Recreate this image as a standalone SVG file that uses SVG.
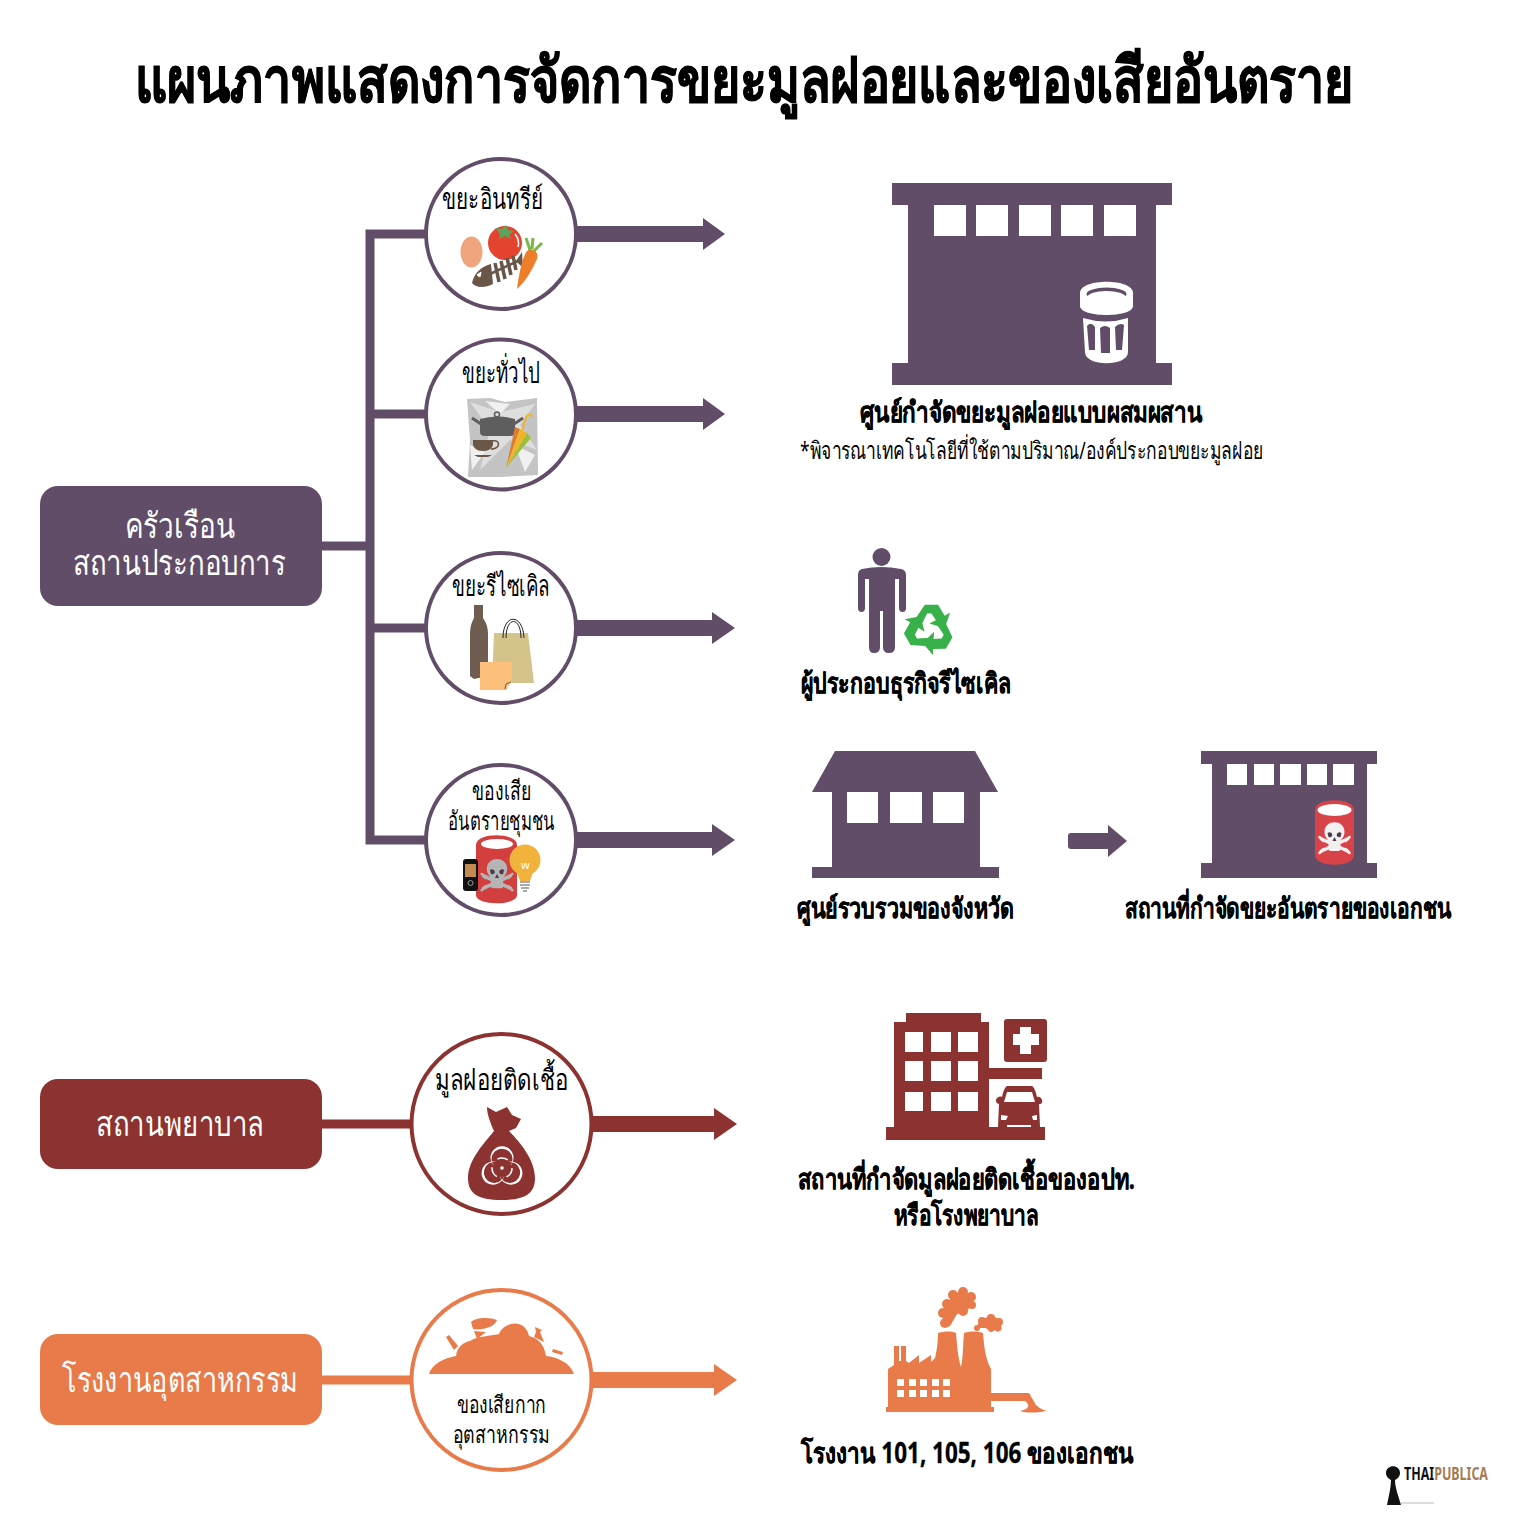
<svg xmlns="http://www.w3.org/2000/svg" width="1520" height="1520" viewBox="0 0 1520 1520">
<style>
text{font-family:"Noto Sans","Open Sans","DejaVu Sans",sans-serif}
.t{fill:#000;font-size:29px}
.s{fill:#000;font-size:26px}
.n{fill:#000;font-size:24px}
.b{fill:#000;font-size:28px;font-weight:700;stroke:#000;stroke-width:.3}
.w{fill:#fff;font-size:35px}
.p{fill:#624d68}.r{fill:#8c3230}.o{fill:#e97a4a}
.ps{stroke:#624d68}.rs{stroke:#8c3230}.os{stroke:#e97a4a}
.c{fill:#fff;stroke-width:4}
.wf{fill:#fff}
</style>
<defs>
<g id="skull">
<path d="M-13-1 13 11M13-1-13 11" stroke-width="3.500" stroke-linecap="round" fill="none"/>
<path d="M-15-3-11 1M15-3 11 1M-15 13-11 9M15 13 11 9" stroke-width="2.500" stroke-linecap="round" fill="none"/>
<path stroke="none" d="M-10-8C-10-21 10-21 10-8 10-3 7-1 6 1V9Q6 11 3 11H-3Q-6 11-6 9V1C-7-1-10-3-10-8Z"/>
<path stroke="none" fill="#4d3a4d" d="M-7-7Q-3-9-2-5-3-2-6-3ZM7-7Q3-9 2-5 3-2 6-3ZM0-3 2 1H-2Z"/>
</g>
<path id="arm" d="M-15-6-4-22H8L14-12 19-15 14-1 0-5 6-8 2-14H-2L-8-2Z"/>
<path id="cres" d="M-8-2A11.500 11.500 0 1 1 8-2A10.500 10.500 0 1 0-8-2Z"/>
</defs>
<rect width="1520" height="1520" fill="#fff"/>
<text id="title" x="135" y="102" font-size="62" font-weight="700" fill="#000" stroke="#000" stroke-width=".9" textLength="1218" lengthAdjust="spacingAndGlyphs">แผนภาพแสดงการจัดการขยะมูลฝอยและของเสียอันตราย</text>

<g id="connectors" fill="none">
<path class="ps" stroke-width="9" d="M322 546H370M370 229.500V844.500M366 234H427M366 414H427M366 628H427M366 840H427"/>
<path class="rs" stroke-width="9" d="M322 1124H412"/>
<path class="os" stroke-width="9" d="M322 1380H412"/>
<path class="p" d="M577 226H703V218L725 234 703 250V242H577Z"/>
<path class="p" d="M577 406H703V398L725 414 703 430V422H577Z"/>
<path class="p" d="M577 620H712V612L735 628 712 644V636H577Z"/>
<path class="p" d="M577 832H712V824L735 840 712 856V848H577Z"/>
<path class="r" d="M592 1116H714V1108L737 1124 714 1140V1132H592Z"/>
<path class="o" d="M592 1372H714V1364L737 1380 714 1396V1388H592Z"/>
<path class="p" d="M1071 833H1108V825L1127 841 1108 857V849H1071Q1068 849 1068 846V836Q1068 833 1071 833Z"/>
</g>

<g id="n-household"><rect class="p" x="40" y="486" width="282" height="120" rx="18"/>
<text class="w" x="125" y="538" textLength="110" lengthAdjust="spacingAndGlyphs">ครัวเรือน</text>
<text class="w" x="73" y="575" textLength="213" lengthAdjust="spacingAndGlyphs">สถานประกอบการ</text></g>
<g id="n-hospital"><rect class="r" x="40" y="1079" width="282" height="90" rx="18"/>
<text class="w" x="96" y="1136" textLength="168" lengthAdjust="spacingAndGlyphs">สถานพยาบาล</text></g>
<g id="n-factory"><rect class="o" x="40" y="1334" width="282" height="91" rx="18"/>
<text class="w" x="62" y="1392" textLength="236" lengthAdjust="spacingAndGlyphs">โรงงานอุตสาหกรรม</text></g>

<g id="n-organic"><circle class="c ps" cx="501" cy="234" r="75"/>
<text class="t" x="442" y="209" textLength="101" lengthAdjust="spacingAndGlyphs">ขยะอินทรีย์</text>
<ellipse cx="471.500" cy="252" rx="11" ry="15.500" fill="#f0a57e"/>
<circle cx="505" cy="243" r="17" fill="#e4432f"/>
<path d="M515 234Q520 240 518 247" stroke="#fff" stroke-width="1.500" fill="none"/>
<path d="M495 228 502 229 506 225 508 230 514 231 509 235 511 239 505 236 499 239 500 234Z" fill="#5fa35a"/>
<path d="M472 283C474 273 482 266 491 264L493 284C485 288 476 288 472 283Z" fill="#6a5648"/>
<path d="M488 275 520 260" stroke="#6a5648" stroke-width="2.500"/>
<path d="M495 263 499 282M501 261 505 279M507 258 511 275M513 256 516 270" stroke="#6a5648" stroke-width="3.500"/>
<path d="M516 261 522 252 523 268Z" fill="#6a5648"/>
<path d="M477 275 481 272 480 277Z" fill="#fff" stroke="#fff"/>
<path d="M517 289C519 274 522 258 527 251 533 247 539 252 537 259 532 270 526 281 517 289Z" fill="#ee7d2a"/>
<path d="M530 250 526 238M532 249 533 238M534 251 542 243" stroke="#7ab648" stroke-width="3" fill="none"/>
</g>

<g id="n-general"><circle class="c ps" cx="501" cy="414.500" r="75"/>
<text class="t" x="462" y="383" textLength="78" lengthAdjust="spacingAndGlyphs">ขยะทั่วไป</text>
<path d="M467 399 490 398 505 402 537 398 538 475 500 477 468 477 470 440Z" fill="#c4c4c4"/>
<path d="M470 402 500 412 535 404 520 425 537 450 510 440 480 470 490 430Z" fill="#dedede"/>
<path d="M485 401 510 404 500 414ZM470 445 485 452 472 470ZM515 445 535 455 525 472Z" fill="#f0f0f0"/>
<path d="M480 419Q497 414 515 419V432Q515 436 510 436H485Q480 436 480 432Z" fill="#5e5e5e"/>
<path d="M472 418 481 424M523 418 514 424" stroke="#5e5e5e" stroke-width="3"/>
<circle cx="497" cy="414.500" r="2.500" fill="none" stroke="#5e5e5e" stroke-width="1.500"/>
<path d="M473 440H493V445Q491 451 483 451 475 451 473 445Z" fill="#6b5748"/>
<path d="M492 441Q500 440 498 446 496 449 491 449" fill="none" stroke="#6b5748" stroke-width="1.500"/>
<path d="M474 455H492L488 457H478Z" fill="#6b5748"/>
<path d="M506 468 515 427 520 429Z" fill="#e07a2f"/>
<path d="M506 468 520 429 527 433Z" fill="#f0b429"/>
<path d="M506 468 527 433 531 438Z" fill="#9bc13c"/>
<path d="M522 431 526 417Q529 412 532 417" fill="none" stroke="#f0b429" stroke-width="2"/>
</g>

<g id="n-recycle"><circle class="c ps" cx="501" cy="628" r="75"/>
<text class="t" x="452" y="596" textLength="98" lengthAdjust="spacingAndGlyphs">ขยะรีไซเคิล</text>
<path d="M474 605H483V618Q488 625 488 634V676L474 679 470 676V634Q470 625 474 618Z" fill="#6e5d50"/>
<path d="M494 633H528L534 683H492Z" fill="#d4c48c"/>
<path d="M503 638C503 613 523 613 524 638M506 638C506 616 521 616 521 638" fill="none" stroke="#222" stroke-width="1"/>
<path d="M480 662H512V680L506 690H480Z" fill="#fdc07c"/>
<path d="M505 689 506 684 511 682" fill="none" stroke="#7a5a30" stroke-width="1"/>
</g>

<g id="n-hazard"><circle class="c ps" cx="501" cy="840" r="75"/>
<text class="s" x="472" y="800" textLength="59" lengthAdjust="spacingAndGlyphs">ของเสีย</text>
<text class="s" x="448" y="830" textLength="107" lengthAdjust="spacingAndGlyphs">อันตรายชุมชน</text>
<path d="M476 845C476 832 517 832 517 845V895C517 906 476 906 476 895Z" fill="#d33f3f"/>
<ellipse cx="497" cy="844" rx="16" ry="5" fill="#fff"/>
<use href="#skull" transform="translate(497 877) scale(1.020)" fill="#b5b5b5" stroke="#b5b5b5"/>
<rect x="463" y="859" width="15" height="32" rx="3" fill="#111"/>
<rect x="465" y="864" width="11" height="13" fill="#c08a50"/>
<circle cx="470.500" cy="883" r="2.500" fill="none" stroke="#999"/>
<circle cx="525" cy="860" r="15.500" fill="#f2b33d"/>
<path d="M517 872H533L530 881H520Z" fill="#f2b33d"/>
<path d="M520 882H530M520 885H530M521 888H529M523 891H527" stroke="#aaa" stroke-width="2"/>
<text x="521" y="869" font-size="11" fill="#fff">w</text>
</g>

<g id="n-infectious"><circle class="c rs" cx="501.500" cy="1124" r="90"/>
<text class="t" x="435" y="1090" textLength="133" lengthAdjust="spacingAndGlyphs">มูลฝอยติดเชื้อ</text>
<path class="r" d="M487 1107 496 1112 507 1107 512 1115 521 1119 516 1128 509 1131C520 1142 535 1160 535 1178 535 1193 526 1200 502 1200 477 1200 468 1193 468 1178 468 1160 485 1142 494 1131 490 1122 487 1114 487 1107Z"/>
<g class="wf"><use href="#cres" transform="translate(502 1168)"/><use href="#cres" transform="translate(502 1168) rotate(120)"/><use href="#cres" transform="translate(502 1168) rotate(240)"/></g>
<circle cx="502" cy="1168" r="10" fill="none" stroke="#fff" stroke-width="1.500" stroke-dasharray="11 10"/>
<circle cx="502" cy="1168" r="1.800" fill="#fff"/>
</g>

<g id="n-industrial"><circle class="c os" cx="501.500" cy="1380" r="90"/>
<path class="o" d="M429 1374C432 1364 444 1358 456 1356 457 1347 464 1342 470 1341 478 1336 490 1336 499 1334 502 1326 512 1322 519 1324 525 1326 528 1331 529 1336 538 1338 544 1344 546 1356 556 1357 570 1362 574 1374Z"/>
<path class="o" d="M446 1337 449 1335 458 1346 454 1350Z"/>
<path class="o" d="M471 1322C476 1317 490 1317 497 1320 496 1326 482 1331 473 1329Z"/>
<path class="o" d="M474 1331 486 1332 477 1339Z"/>
<path class="o" d="M535 1327 542 1330 540 1332 544 1342 534 1337 536 1332Z"/>
<path class="o" d="M553 1349 563 1352 562 1355 552 1352Z"/>
<text class="n" x="457" y="1413" textLength="89" lengthAdjust="spacingAndGlyphs">ของเสียกาก</text>
<text class="n" x="453" y="1443" textLength="97" lengthAdjust="spacingAndGlyphs">อุตสาหกรรม</text>
</g>

<g id="n-mixed">
<path class="p" d="M892 183H1172V205H1156V363H1172V385H892V363H908V205H892Z"/>
<g class="wf"><rect x="934" y="205" width="32" height="31"/><rect x="976" y="205" width="32" height="31"/><rect x="1019" y="205" width="32" height="31"/><rect x="1061" y="205" width="32" height="31"/><rect x="1104" y="205" width="32" height="31"/></g>
<path class="wf" d="M1080 293C1080 278 1133 278 1133 293V306C1133 318 1080 318 1080 306Z"/>
<ellipse class="p" cx="1106.500" cy="294" rx="20" ry="6.500"/>
<ellipse class="wf" cx="1106.500" cy="297" rx="19" ry="6"/>
<path class="wf" d="M1083 318Q1106 325 1128 318V352C1128 367 1085 367 1085 352Z"/>
<path class="p" d="M1087 326Q1091 321 1095 327V350H1089ZM1100 328Q1105 324 1110 328V353H1101ZM1115 327Q1120 322 1124 325L1122 350H1116Z"/>
<text class="b" x="860" y="422" textLength="342" lengthAdjust="spacingAndGlyphs">ศูนย์กำจัดขยะมูลฝอยแบบผสมผสาน</text>
<text class="n" x="800" y="459" textLength="463" lengthAdjust="spacingAndGlyphs">*พิจารณาเทคโนโลยีที่ใช้ตามปริมาณ/องค์ประกอบขยะมูลฝอย</text>
</g>

<g id="n-recycler">
<circle class="p" cx="881.500" cy="557" r="9"/>
<path class="p" d="M862 569Q881 565 901 569 906 570 906 575V608Q906 612 902.500 612 899 612 899 608V579H895V647Q895 653 889 653 883 653 883 647V611H880V647Q880 653 874 653 869 653 869 647V579H865V608Q865 612 861.500 612 858 612 858 608V575Q858 570 862 569Z"/>
<g fill="#39b14a"><use href="#arm" transform="translate(929.300 629) scale(1.100)"/><use href="#arm" transform="translate(929.300 629) rotate(120) scale(1.100)"/><use href="#arm" transform="translate(929.300 629) rotate(240) scale(1.100)"/></g>
<text class="b" x="801" y="693" textLength="210" lengthAdjust="spacingAndGlyphs">ผู้ประกอบธุรกิจรีไซเคิล</text>
</g>

<g id="n-collect">
<path class="p" d="M835 751H975L998 792H980V867H999V878H812V867H832V792H812Z"/>
<g class="wf"><rect x="847" y="792" width="31" height="31"/><rect x="890" y="792" width="32" height="31"/><rect x="933" y="792" width="31" height="31"/></g>
<text class="b" x="797" y="918" textLength="217" lengthAdjust="spacingAndGlyphs">ศูนย์รวบรวมของจังหวัด</text>
</g>

<g id="n-private">
<path class="p" d="M1201 751H1377V764H1367V863H1377V878H1201V863H1212V764H1201Z"/>
<g class="wf"><rect x="1227" y="764" width="20" height="21"/><rect x="1254" y="764" width="20" height="21"/><rect x="1280" y="764" width="21" height="21"/><rect x="1307" y="764" width="20" height="21"/><rect x="1333" y="764" width="21" height="21"/></g>
<path d="M1315 810C1315 797 1354 797 1354 810V855C1354 868 1315 868 1315 855Z" fill="#d8434a"/>
<ellipse cx="1334.500" cy="810" rx="17" ry="6" fill="#fff"/>
<use href="#skull" transform="translate(1334.500 840)" fill="#f3f0f0" stroke="#f3f0f0"/>
<text class="b" x="1125" y="918" textLength="326" lengthAdjust="spacingAndGlyphs">สถานที่กำจัดขยะอันตรายของเอกชน</text>
</g>

<g id="n-hospital-site">
<path class="r" d="M906 1013H981V1022H989V1068H1042V1079H989V1127H1045V1140H886V1127H894V1022H906Z"/>
<g class="wf">
<rect x="905" y="1032" width="18" height="20"/><rect x="931" y="1032" width="20" height="20"/><rect x="958" y="1032" width="20" height="20"/>
<rect x="905" y="1061" width="18" height="20"/><rect x="931" y="1061" width="20" height="20"/><rect x="958" y="1061" width="20" height="20"/>
<rect x="905" y="1092" width="18" height="19"/><rect x="931" y="1092" width="20" height="19"/><rect x="958" y="1092" width="20" height="19"/>
</g>
<rect class="r" x="1004" y="1019" width="43" height="43" rx="3"/>
<path class="wf" d="M1020 1027H1031V1034H1039V1045H1031V1054H1020V1045H1013V1034H1020Z"/>
<path class="r" d="M1007 1086H1032C1034 1087 1036 1092 1037 1097 1041 1096 1043 1100 1042 1103 1041 1104 1040 1104 1039 1104L1040 1127H998L999 1104C996 1104 995 1100 997 1098 998 1097 1001 1096 1002 1097 1003 1092 1005 1087 1007 1086Z"/>
<path class="wf" d="M1007 1092H1032L1035 1102H1004ZM1001 1115 1008 1116 1006 1120H1001ZM1032 1116 1037 1115 1037 1120H1033ZM1007 1125H1031V1127H1007Z"/>
<text class="b" x="798" y="1189" textLength="337" lengthAdjust="spacingAndGlyphs">สถานที่กำจัดมูลฝอยติดเชื้อของอปท.</text>
<text class="b" x="894" y="1225" textLength="145" lengthAdjust="spacingAndGlyphs">หรือโรงพยาบาล</text>
</g>

<g id="n-factory-site">
<path class="o" d="M894 1346H899V1361H901V1346H906V1361L909 1363 919 1355V1363L931 1355V1362L935 1358C937 1350 938 1340 938 1333 945 1331 952 1331 956 1333 957 1345 958 1358 961 1367 963 1358 963 1345 964 1333 970 1331 978 1331 983 1333 984 1345 985 1358 991 1369V1393H1029L1036 1405C1040 1409 1045 1410 1046 1411 1036 1413 1027 1413 1020 1411 1030 1409 1030 1405 1025 1401H991V1407H994V1412H886V1407H888V1369L894 1365Z"/>
<g class="wf"><rect x="897" y="1379" width="7" height="7"/><rect x="909" y="1379" width="7" height="7"/><rect x="920" y="1379" width="7" height="7"/><rect x="932" y="1379" width="7" height="7"/><rect x="943" y="1379" width="7" height="7"/><rect x="897" y="1390" width="7" height="7"/><rect x="909" y="1390" width="7" height="7"/><rect x="920" y="1390" width="7" height="7"/><rect x="932" y="1390" width="7" height="7"/><rect x="943" y="1390" width="7" height="7"/></g>
<g class="o"><path d="M945 1327 943 1318 945 1306 950 1300 952 1294 963 1291 972 1296 973 1305 966 1311 957 1314 950 1326Z"/>
<circle cx="945" cy="1323" r="5"/><circle cx="943" cy="1313" r="5"/><circle cx="947" cy="1304" r="5"/><circle cx="953" cy="1295" r="5"/><circle cx="963" cy="1292" r="5"/><circle cx="971" cy="1297" r="5"/><circle cx="972" cy="1305" r="4"/><circle cx="963" cy="1311" r="5"/>
<path d="M976 1328 981 1319 992 1316 1002 1320 1001 1327 993 1331 985 1328Z"/>
<circle cx="977" cy="1328" r="3"/><circle cx="982" cy="1321" r="4"/><circle cx="991" cy="1318" r="4"/><circle cx="999" cy="1322" r="4"/><circle cx="998" cy="1328" r="3.500"/><circle cx="991" cy="1329" r="3"/></g>
<text class="b" x="801" y="1463" textLength="332" lengthAdjust="spacingAndGlyphs">โรงงาน 101, 105, 106 ของเอกชน</text>
</g>

<g id="logo">
<path fill="#111" d="M1387 1505C1389 1495 1391 1487 1391 1480 1387 1478 1386 1475 1386 1473 1386 1464 1400 1464 1400 1473 1400 1475 1399 1478 1395 1480 1395 1487 1398 1495 1401 1505Z"/>
<path d="M1401 1503H1434" stroke="#bbb" stroke-width="1"/>
<text x="1404" y="1480" font-size="17" font-weight="700" fill="#111" textLength="84" lengthAdjust="spacingAndGlyphs">THAI<tspan fill="#a57c52">PUBLICA</tspan></text>
</g>
</svg>
